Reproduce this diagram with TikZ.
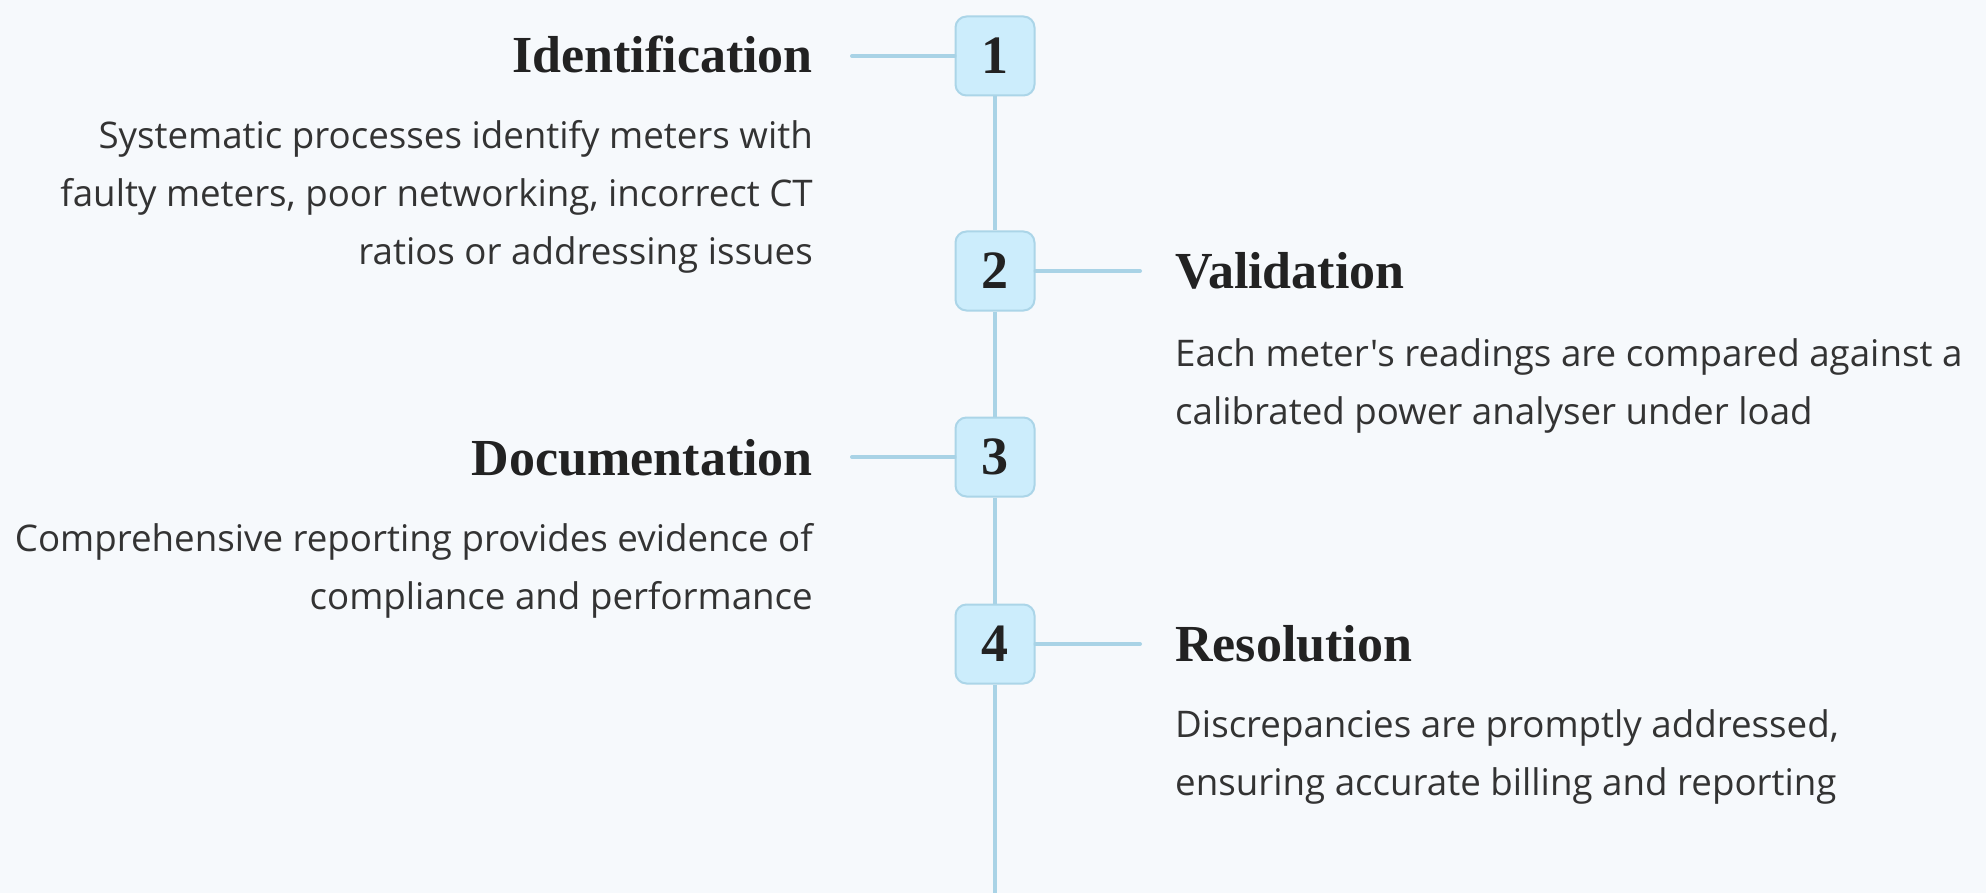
\documentclass[tikz,border=0pt]{standalone}
\usepackage{fontspec}
\setmainfont{Open Sans}[Ligatures=TeXOff]
\newfontfamily\headfont{Liberation Serif}
\definecolor{bgc}{HTML}{F6F9FC}
\definecolor{linec}{HTML}{A9D3E6}
\definecolor{boxfill}{HTML}{CCEDFC}
\definecolor{boxdraw}{HTML}{ABD5E8}
\definecolor{headc}{HTML}{222222}
\definecolor{bodyc}{HTML}{333333}
\tikzset{
  numbox/.style={draw=boxdraw, line width=2pt, fill=boxfill, rounded corners=11pt,
    minimum width=79pt, minimum height=79pt, inner sep=0pt,
    font=\headfont\bfseries\fontsize{54}{54}\selectfont, text=headc},
  conn/.style={draw=linec, line width=4pt, line cap=round},
  vconn/.style={draw=linec, line width=4pt},
  headL/.style={anchor=base east, inner sep=0pt, font=\headfont\bfseries\fontsize{52}{52}\selectfont, text=headc},
  headR/.style={anchor=base west, inner sep=0pt, font=\headfont\bfseries\fontsize{52}{52}\selectfont, text=headc},
  bodyL/.style={anchor=base east, inner sep=0pt, align=right, font=\fontsize{36.7}{58}\selectfont, text=bodyc},
  bodyR/.style={anchor=base west, inner sep=0pt, align=left, font=\fontsize{36.7}{58}\selectfont, text=bodyc},
}
\begin{document}
\begin{tikzpicture}[x=1pt,y=-1pt]
\useasboundingbox[fill=bgc] (0,0) rectangle (1986,893);
% connector end points
\coordinate (bot) at (995,893);
\coordinate (c1) at (852,56);
\coordinate (c2) at (1140,271);
\coordinate (c3) at (852,457);
\coordinate (c4) at (1140,644);
% boxes
\path (995,56) node[numbox] (b1) {1};
\path (995,271) node[numbox] (b2) {2};
\path (995,457) node[numbox] (b3) {3};
\path (995,644) node[numbox] (b4) {4};
\draw[vconn] (b1.south) -- (b2.north);
\draw[vconn] (b2.south) -- (b3.north);
\draw[vconn] (b3.south) -- (b4.north);
\draw[vconn] (b4.south) -- (bot);
\draw[conn] (c1) -- (b1.west);
\draw[conn] (b2.east) -- (c2);
\draw[conn] (c3) -- (b3.west);
\draw[conn] (b4.east) -- (c4);
% texts
\node[headL] (h1) at (813,73) {Identification};
\node[bodyL] (t1) at (813,265) {Systematic processes identify meters with\\faulty meters, poor networking, incorrect CT\\ratios or addressing issues};
\node[headR] (h2) at (1175,289) {Validation};
\node[bodyR] (t2) at (1175,424) {Each meter's readings are compared against a\\calibrated power analyser under load};
\node[headL] (h3) at (813,475) {Documentation};
\node[bodyL] (t3) at (813,609) {Comprehensive reporting provides evidence of\\compliance and performance};
\node[headR] (h4) at (1175,661) {Resolution};
\node[bodyR] (t4) at (1175,795) {Discrepancies are promptly addressed,\\ensuring accurate billing and reporting};
\end{tikzpicture}
\end{document}
